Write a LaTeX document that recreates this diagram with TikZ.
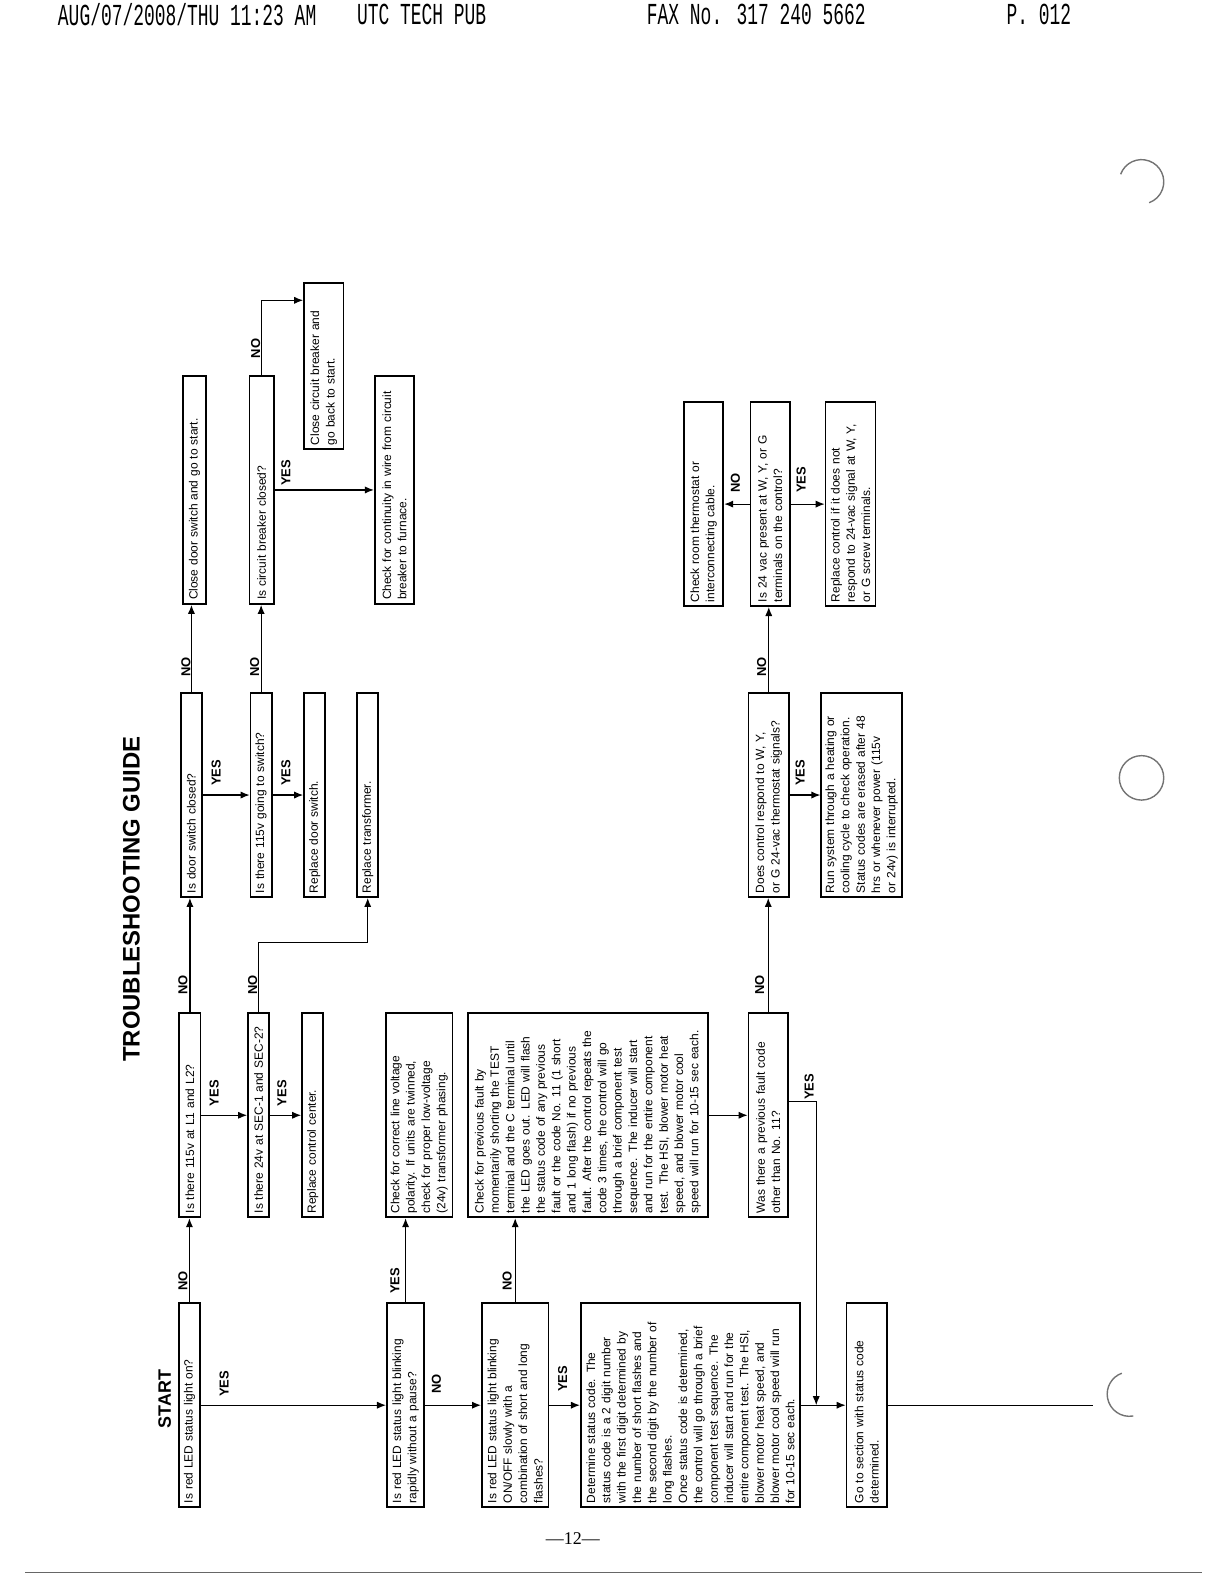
\documentclass[tikz,border=0pt]{standalone}
\usepackage{fontspec}
\setmainfont{Liberation Serif}
\setsansfont{Liberation Sans}
\newfontfamily\faxfont{Liberation Mono}
\usepackage{tikz}
\usetikzlibrary{arrows.meta}

\begin{document}
\begin{tikzpicture}[
    x=0.505bp, y=-0.505bp,
    every node/.style={font=\sffamily\fontsize{6}{7.7}\selectfont},
    box/.style={draw=black, line width=.9pt, rotate=90, align=left,
      inner sep=2pt, text width=98bp, minimum height=10.6bp},
    longbox/.style={box, text width=110bp},
    lbl/.style={rotate=90, inner sep=0pt,
      font=\sffamily\bfseries\fontsize{6.5}{6.5}\selectfont},
    hdr/.style={anchor=west, yscale=1.7, inner sep=0pt,
      font=\faxfont\fontsize{9}{9}\selectfont},
    flow/.style={-{Latex[length=4.5bp,width=3.6bp]}, line width=.6pt},
    hole/.style={draw=black!55, line width=.7pt}
  ]
  \useasboundingbox (0,0) rectangle (1212,1568);

  \node[hdr] (h1) at (57,14) {AUG/07/2008/THU 11:23 AM};
  \node[hdr] (h2) at (353,14) {UTC TECH PUB};
  \node[hdr] (h3) at (640,14) {FAX No. 317 240 5662};
  \node[hdr] (h4) at (996,14) {P. 012};

  \node[rotate=90, font=\sffamily\bfseries\fontsize{12}{12}\selectfont] (title) at (130,890) {TROUBLESHOOTING GUIDE};
  \node[rotate=90, font=\sffamily\bfseries\fontsize{9}{9}\selectfont] (start) at (163,1385) {START};

  % first column of questions
  \node[box] (q1) at (187.5,1391) {Is red LED status light on?};
  \node[box, minimum height=18.7bp] (q2) at (401.5,1391) {Is red LED status light blinking\\rapidly without a pause?};
  \node[box, minimum height=33.3bp] (q3) at (510,1391) {Is red LED status light blinking\\ON/OFF slowly with a\\combination of short and long\\flashes?};
  \node[box, minimum height=109.6bp] (d1) at (683.5,1391) {Determine status code. The\\status code is a 2 digit number\\with the first digit determined by\\the number of short flashes and\\the second digit by the number of\\long flashes.\\Once status code is determined,\\the control will go through a brief\\component test sequence. The\\inducer will start and run for the\\entire component test. The HSI,\\blower motor heat speed, and\\blower motor cool speed will run\\for 10-15 sec each.};
  \node[box, minimum height=20.2bp] (g1) at (858,1391) {Go to section with status code\\determined.};

  \node[box] (q4) at (188,1104) {Is there 115v at L1 and L2?};
  \node[box] (q5) at (256,1104) {Is there 24v at SEC-1 and SEC-2?};
  \node[box] (r1) at (309.5,1104) {Replace control center.};
  \node[box, minimum height=33.3bp] (a2) at (415,1104) {Check for correct line voltage\\polarity. If units are twinned,\\check for proper low-voltage\\(24v) transformer phasing.};
  \node[box, minimum height=120bp] (a3) at (582,1104) {Check for previous fault by\\momentarily shorting the TEST\\terminal and the C terminal until\\the LED goes out. LED will flash\\the status code of any previous\\fault or the code No. 11 (1 short\\and 1 long flash) if no previous\\fault. After the control repeats the\\code 3 times, the control will go\\through a brief component test\\sequence. The inducer will start\\and run for the entire component\\test. The HSI, blower motor heat\\speed, and blower motor cool\\speed will run for 10-15 sec each.};
  \node[box, minimum height=19.7bp] (w1) at (760.5,1104) {Was there a previous fault code\\other than No. 11?};

  \node[box] (q6) at (189.5,787) {Is door switch closed?};
  \node[box] (q7) at (258.5,787) {Is there 115v going to switch?};
  \node[box] (r2) at (311.5,787) {Replace door switch.};
  \node[box] (r3) at (364,787) {Replace transformer.};
  \node[box, minimum height=20.2bp] (c1) at (761,787) {Does control respond to W, Y,\\or G 24-vac thermostat signals?};
  \node[box, minimum height=40.4bp] (s1) at (853,787) {Run system through a heating or\\cooling cycle to check operation.\\Status codes are erased after 48\\hrs or whenever power (115v\\or 24v) is interrupted.};

  \node[longbox, minimum height=11.6bp] (t1) at (192.5,485) {Close door switch and go to start.};
  \node[longbox, minimum height=12.1bp] (b1) at (259,485) {Is circuit breaker closed?};
  \node[box, text width=79bp, minimum height=19.7bp] (k1) at (320.5,362.5) {Close circuit breaker and\\go back to start.};
  \node[longbox, minimum height=19.7bp] (k2) at (390.5,485) {Check for continuity in wire from circuit\\breaker to furnace.};
  \node[box, minimum height=19.7bp] (e1) at (696.5,499) {Check room thermostat or\\interconnecting cable.};
  \node[box, minimum height=19.7bp] (v1) at (762.5,499) {Is 24 vac present at W, Y, or G\\terminals on the control?};
  \node[box, minimum height=25bp] (r4) at (842,499) {Replace control if it does not\\respond to 24-vac signal at W, Y,\\or G screw terminals.};

  \coordinate (jn) at (808,1391);
  \coordinate (tail) at (1082,1391);

  \draw[flow] (q1.south) -- (q2.north);
  \draw[flow] (q2.south) -- (q3.north);
  \draw[flow] (q3.south) -- (d1.north);
  \draw[flow] (d1.south) -- (g1.north);
  \draw[line width=.6pt] (g1.south) -- (tail);
  \draw[flow] (q1.east) -- (q1.east |- q4.west);
  \draw[flow] (q2.east) -- (q2.east |- a2.west);
  \draw[flow] (q3.east) -- (q3.east |- a3.west);

  \draw[flow] (q4.south) -- (q5.north);
  \draw[flow] (q5.south) -- (r1.north);
  \draw[flow] (q4.east) -- (q4.east |- q6.west);
  \draw[flow] (q5.east) -- ++(0,-69) -| (r3.west);
  \draw[flow] (a3.south) -- (w1.north);
  \draw[flow] (w1.east) -- (w1.east |- c1.west);
  \draw[flow] ([yshift=7bp]w1.south) -| (jn);

  \draw[flow] (q6.south) -- (q7.north);
  \draw[flow] (q7.south) -- (r2.north);
  \draw[flow] (q6.east) -- (q6.east |- t1.west);
  \draw[flow] (q7.east) -- (q7.east |- b1.west);
  \draw[flow] (c1.south) -- (s1.north);
  \draw[flow] (c1.east) -- (c1.east |- v1.west);

  \draw[flow] (b1.east) |- ([yshift=-9bp]k1.north east);
  \draw[flow] (b1.south) -- (k2.north);
  \draw[flow] (v1.north) -- (e1.south);
  \draw[flow] (v1.south) -- (r4.north);

  \node[lbl] (yes1) at (222,1370) {YES};
  \node[lbl] (no1) at (181,1268) {NO};
  \node[lbl] (yes2) at (391,1268) {YES};
  \node[lbl] (no2) at (432,1370) {NO};
  \node[lbl] (no3) at (502,1268) {NO};
  \node[lbl] (yes3) at (557,1365) {YES};
  \node[lbl] (yes4) at (212,1082) {YES};
  \node[lbl] (no4) at (181,975) {NO};
  \node[lbl] (yes5) at (279,1082) {YES};
  \node[lbl] (no5) at (250,975) {NO};
  \node[lbl] (no6) at (752,975) {NO};
  \node[lbl] (yes6) at (801,1076) {YES};
  \node[lbl] (yes7) at (214,765) {YES};
  \node[lbl] (no7) at (184,660) {NO};
  \node[lbl] (yes8) at (283,765) {YES};
  \node[lbl] (no8) at (252,660) {NO};
  \node[lbl] (no9) at (754,660) {NO};
  \node[lbl] (yes9) at (792,765) {YES};
  \node[lbl] (no10) at (253,345) {NO};
  \node[lbl] (yes10) at (283,468) {YES};
  \node[lbl] (no11) at (728,478) {NO};
  \node[lbl] (yes11) at (793,475) {YES};

  \node[font=\rmfamily\fontsize{9}{9}\selectfont] (pg) at (567,1523) {—12—};
  \draw[black!60, line width=.5pt] (25,1557) -- (1190,1557);

  \draw[hole] (1130,180) ++(200:22) arc[start angle=200, end angle=430, radius=22];
  \draw[hole] (1130,770) circle[radius=22];
  \draw[hole] (1118,1380) ++(80:22) arc[start angle=80, end angle=250, radius=22];
\end{tikzpicture}
\end{document}
